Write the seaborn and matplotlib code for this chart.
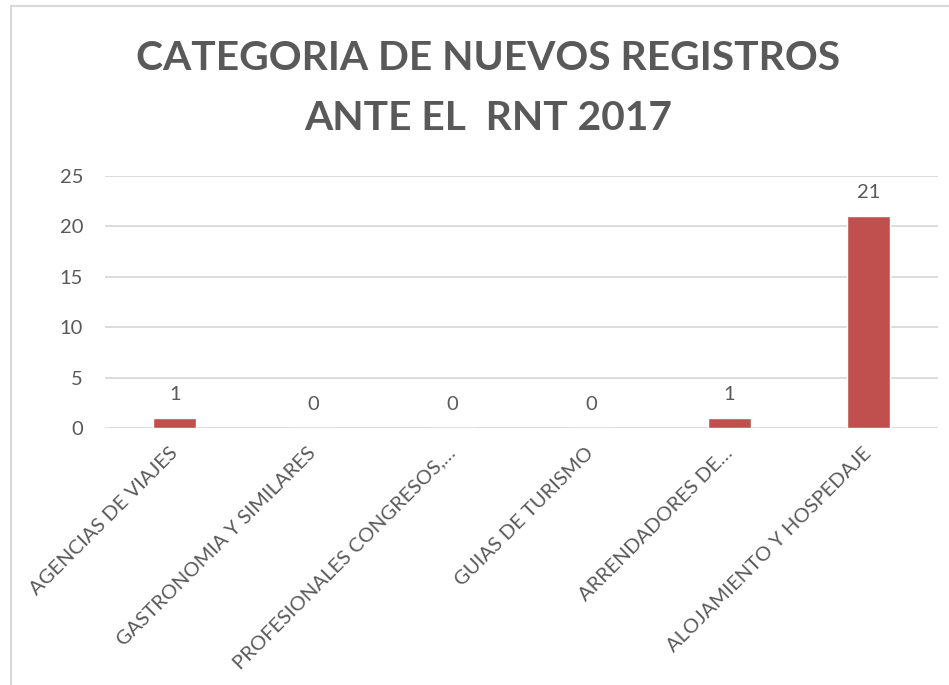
import matplotlib
matplotlib.use("Agg")
import matplotlib.pyplot as plt
from matplotlib.lines import Line2D
import seaborn as sns
import pandas as pd

categories = [
    "AGENCIAS DE VIAJES",
    "GASTRONOMIA Y SIMILARES",
    "PROFESIONALES CONGRESOS,…",
    "GUIAS DE TURISMO",
    "ARRENDADORES DE…",
    "ALOJAMIENTO Y HOSPEDAJE",
]
values = [1, 0, 0, 0, 1, 21]
yticks = [0, 5, 10, 15, 20, 25]
title_lines = ["CATEGORIA DE NUEVOS REGISTROS", "ANTE EL  RNT 2017"]

sns.set_theme(style="white")
plt.rcParams["font.family"] = ["Lato", "DejaVu Sans"]

TXT = "#595959"
BAR = "#C0504D"
GRID = "#D9D9D9"

df = pd.DataFrame({"cat": categories, "val": values})

fig = plt.figure(figsize=(9.49, 6.85), dpi=100)
ax = fig.add_axes([0.111, 0.375, 0.877, 0.368])

sns.barplot(data=df, x="cat", y="val", color=BAR, width=0.31, saturation=1,
            ax=ax, zorder=3)

ax.set_ylim(0, 25)
ax.set_yticks(yticks)
ax.set_yticklabels([str(t) for t in yticks])
ax.set_xlim(-0.5, len(categories) - 0.5)
ax.yaxis.grid(True, color=GRID, linewidth=1.3, zorder=0)
ax.set_axisbelow(True)
for s in ax.spines.values():
    s.set_visible(False)
ax.set_xlabel("")
ax.set_ylabel("")
ax.tick_params(axis="both", length=0, labelsize=14.5, colors=TXT)
ax.tick_params(axis="y", pad=16)
ax.tick_params(axis="x", pad=16)
for lab in ax.get_xticklabels():
    lab.set_rotation(45)
    lab.set_ha("right")
    lab.set_rotation_mode("anchor")
    lab.set_va("center")

for i, v in enumerate(values):
    ax.annotate(str(v), (i, v), xytext=(0, 11), textcoords="offset points",
                ha="center", va="bottom", fontsize=14.5, color=TXT)

fig.text(0.514, 1 - 59 / 685, title_lines[0], ha="center", va="center",
         fontsize=29.3, fontweight="bold", color=TXT)
fig.text(0.514, 1 - 119 / 685, title_lines[1], ha="center", va="center",
         fontsize=29.3, fontweight="bold", color=TXT)

fig.add_artist(Line2D([11 / 949, 11 / 949], [0, 1 - 5.5 / 685],
                      transform=fig.transFigure, color="#D9D9D9", linewidth=1.5))
fig.add_artist(Line2D([11 / 949, 1], [1 - 5.5 / 685, 1 - 5.5 / 685],
                      transform=fig.transFigure, color="#D9D9D9", linewidth=1.5))

fig.savefig("out.png", dpi=100, facecolor="white")
